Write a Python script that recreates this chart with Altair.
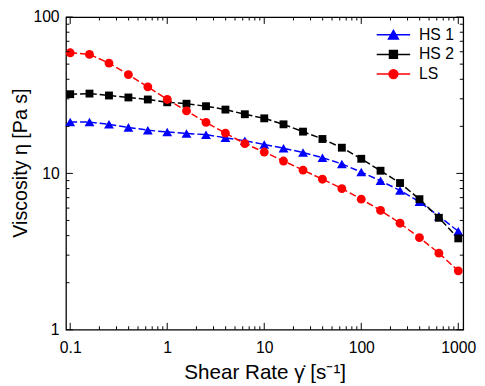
import altair as alt
import pandas as pd

# ---- data ----
shear_rate = [0.1, 0.158, 0.251, 0.398, 0.631, 1, 1.58, 2.51, 3.98, 6.31,
              10, 15.8, 25.1, 39.8, 63.1, 100, 158, 251, 398, 631, 1000]
hs1 = [21.3, 21.3, 20.6, 19.7, 18.9, 18.4, 18.0, 17.7, 16.9, 16.2,
       15.3, 14.5, 13.6, 12.6, 11.5, 10.2, 8.96, 7.78, 6.59, 5.33, 4.26]
hs2 = [32.1, 32.4, 31.5, 30.6, 29.7, 28.5, 27.9, 26.9, 25.6, 23.9,
       22.5, 20.6, 18.5, 16.6, 14.6, 12.4, 10.4, 8.68, 6.84, 5.20, 3.84]
ls = [59.1, 57.7, 50.8, 42.8, 35.8, 29.7, 25.1, 21.2, 18.1, 15.5,
      13.7, 12.0, 10.5, 9.18, 8.0, 6.84, 5.80, 4.80, 3.88, 3.09, 2.38]

series_names = ["HS 1", "HS 2", "LS"]
series_colors = ["#0000FF", "#000000", "#FF0000"]
series_shapes = ["triangle-up", "square", "circle"]
series_sizes = [100, 64, 81]

x_major = [0.1, 1, 10, 100, 1000]
x_minor = [0.2, 0.3, 0.4, 0.5, 0.6, 0.7, 0.8, 0.9,
           2, 3, 4, 5, 6, 7, 8, 9,
           20, 30, 40, 50, 60, 70, 80, 90,
           200, 300, 400, 500, 600, 700, 800, 900]
y_major = [1, 10, 100]
y_minor = [2, 3, 4, 5, 6, 7, 8, 9, 20, 30, 40, 50, 60, 70, 80, 90]

# legend symbols: line through marker
legend_paths = [
    "M-3.4,0H3.4M0,-0.87L1,0.87L-1,0.87Z",
    "M-3.4,0H3.4M-0.8,-0.8H0.8V0.8H-0.8Z",
    "M-3.4,0H3.4M0.9,0A0.9,0.9,0,1,1,-0.9,0A0.9,0.9,0,1,1,0.9,0Z",
]

W, H = 404, 318
FONT = "Liberation Sans"

rows = []
for name, vals in zip(series_names, [hs1, hs2, ls]):
    for xv, yv in zip(shear_rate, vals):
        rows.append({"series": name, "rate": xv, "visc": yv})
df = pd.DataFrame(rows)

xs = alt.Scale(type="log", domain=[0.0905, 1125], nice=False)
ys = alt.Scale(type="log", domain=[1, 100], nice=False)
# implicit (sorted) domain so that this colour scale is not merged with the legend scales
color_scale = alt.Scale(range=series_colors)

x_axis = alt.Axis(values=x_major, format="~g", ticks=False, tickSize=0, domain=False,
                  grid=False, labelFontSize=16, labelFont=FONT, labelColor="black",
                  labelPadding=10, labelFlush=False, labelOverlap=False,
                  title="Shear Rate \u03b3\u0307 [s\u207b\u00b9]", titleFont=FONT,
                  titleFontSize=21, titleFontWeight="normal", titleColor="black",
                  titleBaseline="alphabetic", titleY=50)
y_axis = alt.Axis(values=y_major, format="~g", ticks=False, tickSize=0, domain=False,
                  grid=False, labelFontSize=16, labelFont=FONT, labelColor="black",
                  labelPadding=7, labelFlush=False, labelOverlap=False,
                  title="Viscosity \u03b7 [Pa s]", titleFont=FONT,
                  titleFontSize=20, titleFontWeight="normal", titleColor="black",
                  titleAngle=270, titleAlign="center", titleBaseline="alphabetic",
                  titleX=-40, titleY=148)

X = alt.X("rate:Q", scale=xs, axis=x_axis)
Y = alt.Y("visc:Q", scale=ys, axis=y_axis)

base = alt.Chart(df)

lines = base.mark_line(strokeDash=[7, 3], strokeWidth=1.5).encode(
    x=X, y=Y,
    color=alt.Color("series:N", scale=color_scale, legend=None),
)

points = []
for name, shp, sz in zip(series_names, series_shapes, series_sizes):
    points.append(
        base.transform_filter(alt.datum.series == name)
        .mark_point(filled=True, shape=shp, size=sz, opacity=1)
        .encode(x=X, y=Y,
                color=alt.Color("series:N", scale=color_scale, legend=None))
    )

leg = alt.Legend(title=None, orient="none", legendX=325, legendY=10,
                 labelFontSize=16, labelFont=FONT, labelColor="black",
                 symbolSize=100, symbolStrokeWidth=1.5, symbolOpacity=1,
                 labelOffset=18, rowPadding=4, padding=0)

legend_layer = base.mark_point(filled=True, opacity=0).encode(
    x=X, y=Y,
    fill=alt.Fill("series:N", scale=alt.Scale(domain=series_names, range=series_colors), legend=leg),
    stroke=alt.Stroke("series:N", scale=alt.Scale(domain=series_names, range=series_colors), legend=leg),
    shape=alt.Shape("series:N", scale=alt.Scale(domain=series_names, range=legend_paths), legend=leg),
)


def x_ticks(vals, length, top):
    d = pd.DataFrame({"rate": vals})
    enc = dict(y=alt.value(0), y2=alt.value(length)) if top else dict(y=alt.value(H), y2=alt.value(H - length))
    return alt.Chart(d).mark_rule(color="black", strokeWidth=1).encode(x=X, **enc)


def y_ticks(vals, length, right):
    d = pd.DataFrame({"visc": vals})
    enc = dict(x=alt.value(W), x2=alt.value(W - length)) if right else dict(x=alt.value(0), x2=alt.value(length))
    return alt.Chart(d).mark_rule(color="black", strokeWidth=1).encode(y=Y, **enc)


ticks = [
    x_ticks(x_major, 7, False), x_ticks(x_minor, 3.5, False),
    x_ticks(x_major, 7, True), x_ticks(x_minor, 3.5, True),
    y_ticks(y_major, 7, False), y_ticks(y_minor, 3.5, False),
    y_ticks(y_major, 7, True), y_ticks(y_minor, 3.5, True),
]

chart = alt.layer(lines, *points, legend_layer, *ticks).properties(
    width=W, height=H,
    autosize=alt.AutoSizeParams(type="none"),
    padding={"left": 59, "top": 6, "right": 14, "bottom": 54},
).configure(font=FONT).configure_view(stroke="#000000", strokeWidth=1.3)

chart.save("out.html", embed_options={"renderer": "svg", "actions": False})
